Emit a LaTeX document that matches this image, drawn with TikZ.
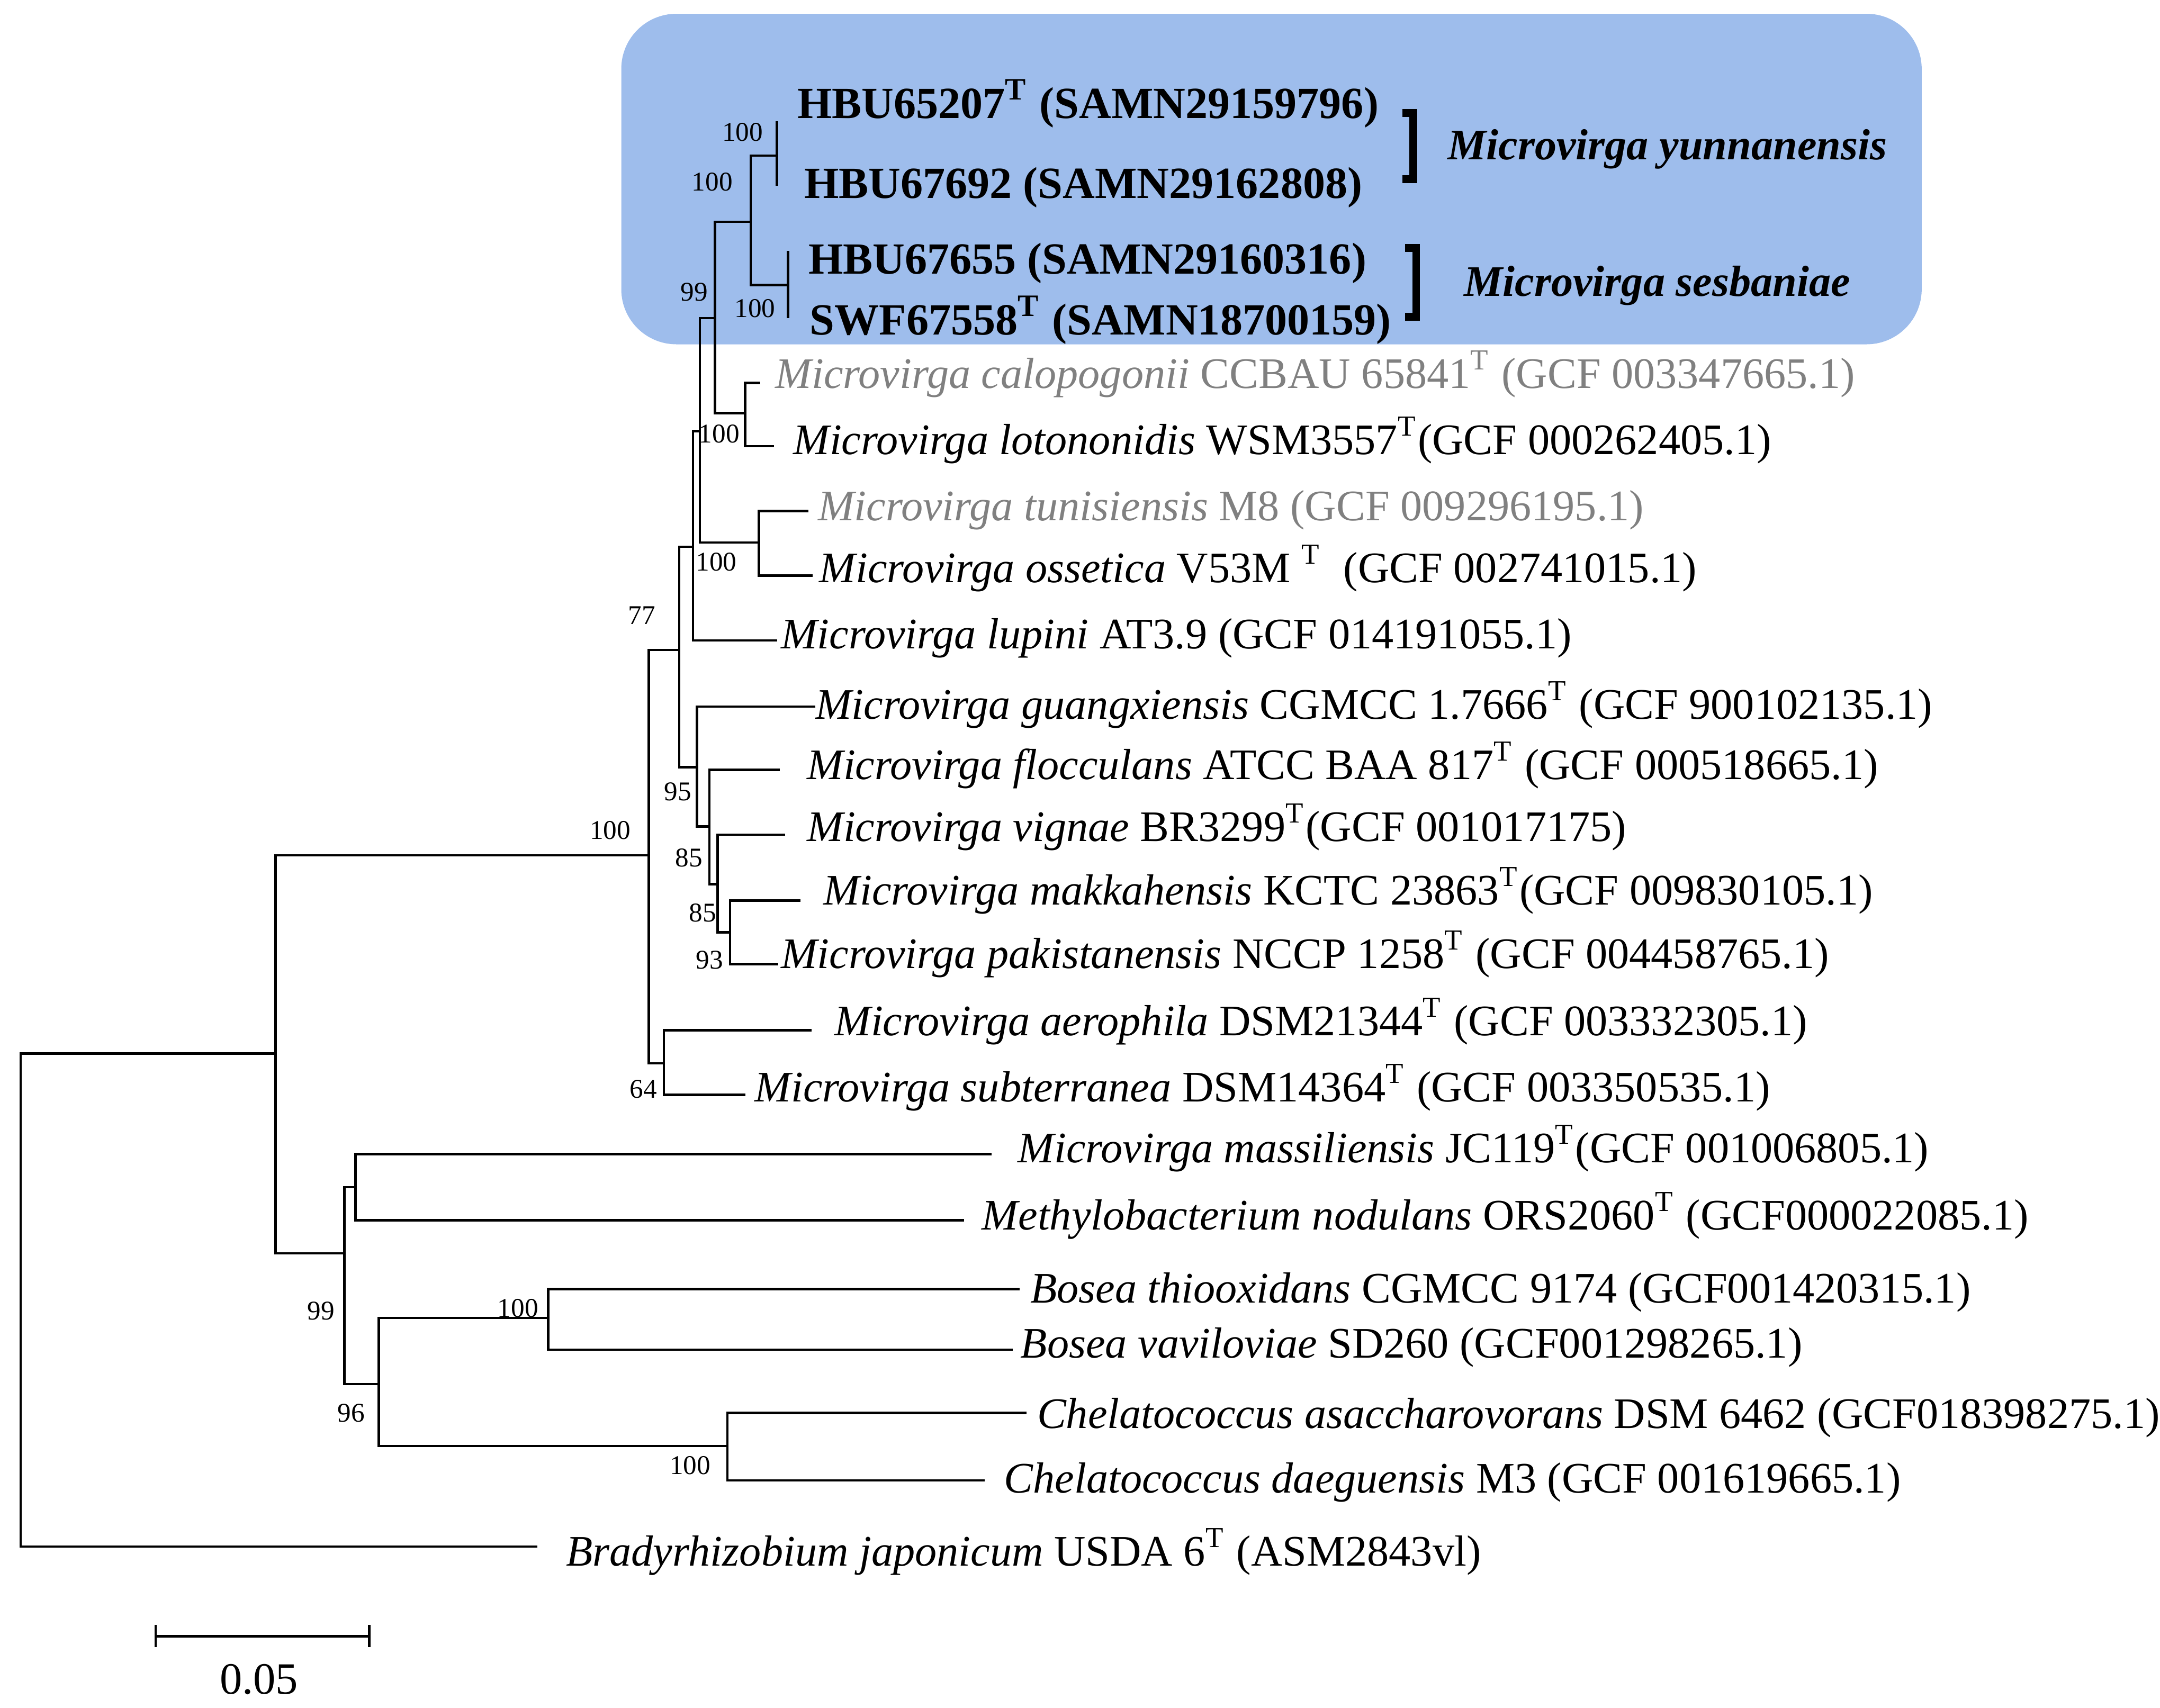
\documentclass[tikz,border=0pt]{standalone}
\usepackage{fontspec}
\setmainfont{Liberation Serif}
\definecolor{boxblue}{RGB}{158,189,236}
\definecolor{lgray}{RGB}{128,128,128}
\begin{document}
\begin{tikzpicture}[x=0.1mm,y=-0.1mm,line width=0.5pt,
  leaf/.style={anchor=base west,inner sep=0pt,font=\fontsize{9.0}{10}\selectfont},
  gleaf/.style={leaf,text=lgray},
  bold/.style={anchor=base west,inner sep=0pt,font=\fontsize{9.2}{11}\selectfont\bfseries},
  sp/.style={anchor=base west,inner sep=0pt,font=\fontsize{9.0}{11}\selectfont\bfseries\itshape},
  bs/.style={inner sep=0pt,font=\fontsize{5.6}{6}\selectfont}]
\useasboundingbox (0,0) rectangle (1568,1240);
\fill[boxblue,rounded corners=4mm] (451,10) rectangle (1395,250);
% tree
\draw (564,88)--(564,135);
\draw (572,182)--(572,231);
\draw (564,113)-|(545,207)--(572,207);
\draw (545,161)-|(519,300)--(541,300);
\draw (552,278)-|(541,324)--(562,324);
\draw (519,231)-|(508,394)--(551,394);
\draw (587,371)-|(551,418)--(590,418);
\draw (508,313)-|(503,465)--(564,465);
\draw (503,397)-|(493,557)--(506,557);
\draw (592,513)-|(506,600)--(515,600);
\draw (566,559)-|(515,642)--(521,642);
\draw (570,606)-|(521,677)--(530,677);
\draw (581,654)-|(530,700)--(565,700);
\draw (493,472)-|(471,772)--(482,772);
\draw (589,748)-|(482,795)--(541,795);
\draw (471,621)-|(200,910)--(250,910);
\draw (200,765)-|(15,1123)--(390,1123);
\draw (258,862)-|(250,1005)--(275,1005);
\draw (720,838)-|(258,886)--(700,886);
\draw (398,957)-|(275,1050)--(528,1050);
\draw (740,936)-|(398,980)--(735,980);
\draw (745,1026)-|(528,1075)--(715,1075);
% scale bar
\draw (113,1180)--(113,1196) (113,1188)--(268,1188) (268,1180)--(268,1196);
\node[anchor=base,inner sep=0pt,font=\fontsize{9.25}{10}\selectfont] (sc) at (188,1230) {0.05};
% bootstrap
\node[bs] (b1) at (539,96) {100};
\node[bs] (b2) at (517,132) {100};
\node[bs] (b3) at (548,224) {100};
\node[bs] (b4) at (504,212) {99};
\node[bs] (b5) at (522,315) {100};
\node[bs] (b6) at (520,408) {100};
\node[bs] (b7) at (466,447) {77};
\node[bs] (b8) at (443,603) {100};
\node[bs] (b9) at (492,575) {95};
\node[bs] (b10) at (500,623) {85};
\node[bs] (b11) at (510,663) {85};
\node[bs] (b12) at (515,697) {93};
\node[bs] (b13) at (467,791) {64};
\node[bs] (b14) at (233,952) {99};
\node[bs] (b15) at (255,1026) {96};
\node[bs] (b16) at (376,950) {100};
\node[bs] (b17) at (501,1064) {100};
% bold labels
\node[bold] (l1) at (578,86) {HBU65207\textsuperscript{T} (SAMN29159796)};
\node[bold] (l2) at (583,144) {HBU67692 (SAMN29162808)};
\node[bold] (l3) at (586,199) {HBU67655 (SAMN29160316)};
\node[bold] (l4) at (587,243) {SWF67558\textsuperscript{T} (SAMN18700159)};
\draw[line width=1.6pt] (1018,82)--(1026,82)--(1026,130)--(1018,130);
\draw[line width=1.6pt] (1020,180)--(1028,180)--(1028,230)--(1020,230);
\node[sp] (s1) at (1050,116) {Microvirga yunnanensis};
\node[sp] (s2) at (1062,215) {Microvirga sesbaniae};
% leaves
\node[gleaf] (t1) at (562,282) {\textit{Microvirga calopogonii} CCBAU 65841\textsuperscript{T} (GCF 003347665.1)};
\node[leaf] (t2) at (575,330) {\textit{Microvirga lotononidis} WSM3557\textsuperscript{T}(GCF 000262405.1)};
\node[gleaf] (t3) at (593,378) {\textit{Microvirga tunisiensis} M8 (GCF 009296195.1)};
\node[leaf] (t4) at (594,423) {\textit{Microvirga ossetica} V53M \textsuperscript{T}\ \ (GCF 002741015.1)};
\node[leaf] (t5) at (566,471) {\textit{Microvirga lupini} AT3.9 (GCF 014191055.1)};
\node[leaf] (t6) at (591,522) {\textit{Microvirga guangxiensis} CGMCC 1.7666\textsuperscript{T} (GCF 900102135.1)};
\node[leaf] (t7) at (585,566) {\textit{Microvirga flocculans} ATCC BAA 817\textsuperscript{T} (GCF 000518665.1)};
\node[leaf] (t8) at (585,611) {\textit{Microvirga vignae} BR3299\textsuperscript{T}(GCF 001017175)};
\node[leaf] (t9) at (597,657) {\textit{Microvirga makkahensis} KCTC 23863\textsuperscript{T}(GCF 009830105.1)};
\node[leaf] (t10) at (566,703) {\textit{Microvirga pakistanensis} NCCP 1258\textsuperscript{T} (GCF 004458765.1)};
\node[leaf] (t11) at (605,752) {\textit{Microvirga aerophila} DSM21344\textsuperscript{T} (GCF 003332305.1)};
\node[leaf] (t12) at (547,800) {\textit{Microvirga subterranea} DSM14364\textsuperscript{T} (GCF 003350535.1)};
\node[leaf] (t13) at (738,844) {\textit{Microvirga massiliensis} JC119\textsuperscript{T}(GCF 001006805.1)};
\node[leaf] (t14) at (712,893) {\textit{Methylobacterium nodulans} ORS2060\textsuperscript{T} (GCF000022085.1)};
\node[leaf] (t15) at (747,946) {\textit{Bosea thiooxidans} CGMCC 9174 (GCF001420315.1)};
\node[leaf] (t16) at (740,986) {\textit{Bosea vaviloviae} SD260 (GCF001298265.1)};
\node[leaf] (t17) at (752,1037) {\textit{Chelatococcus asaccharovorans} DSM 6462 (GCF018398275.1)};
\node[leaf] (t18) at (728,1084) {\textit{Chelatococcus daeguensis} M3 (GCF 001619665.1)};
\node[leaf] (t19) at (410,1137) {\textit{Bradyrhizobium japonicum} USDA 6\textsuperscript{T} (ASM2843vl)};
\end{tikzpicture}
\end{document}
